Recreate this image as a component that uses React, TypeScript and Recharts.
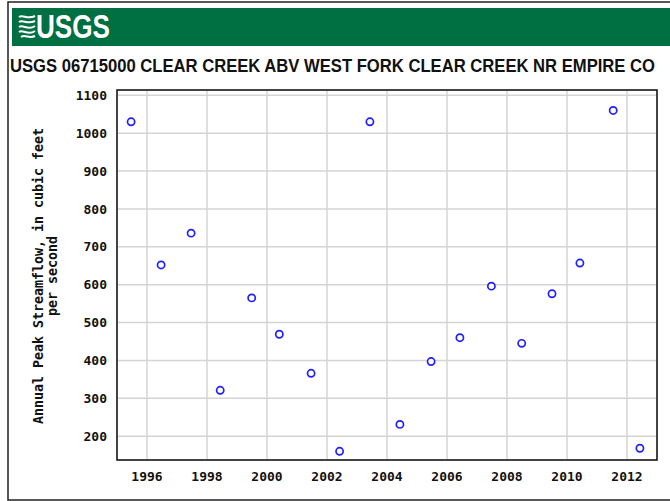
import React from 'react';
import { ScatterChart, Scatter, XAxis, YAxis, CartesianGrid, ReferenceArea } from 'recharts';

// ---- data ----
const peakDates = [
  1995.47, 1996.47, 1997.47, 1998.44, 1999.49, 2000.41, 2001.47, 2002.42, 2003.43,
  2004.43, 2005.47, 2006.43, 2007.48, 2008.49, 2009.5, 2010.43, 2011.54, 2012.43,
];
const peakFlows = [
  1030, 652, 736, 321, 565, 469, 366, 160, 1030,
  231, 397, 460, 596, 445, 576, 657, 1060, 168,
];
const xTicks = [1996, 1998, 2000, 2002, 2004, 2006, 2008, 2010, 2012];
const yTicks = [200, 300, 400, 500, 600, 700, 800, 900, 1000, 1100];
const xDomain: [number, number] = [1995, 2013];
const yDomain: [number, number] = [137, 1114];
const titleText = 'USGS 06715000 CLEAR CREEK ABV WEST FORK CLEAR CREEK NR EMPIRE CO';
const yLabelLine1 = 'Annual Peak Streamflow, in cubic feet';
const yLabelLine2 = 'per second';
const logoText = 'USGS';

const data = peakDates.map((x, i) => ({ x, y: peakFlows[i] }));

const W = 670;
const H = 501;
const MONO = '"DejaVu Sans Mono", "Liberation Mono", monospace';
const SANS = '"Liberation Sans", Arial, sans-serif';
const GREEN = '#006F41';

const Marker = (props: any) => {
  const { cx, cy } = props;
  if (cx == null || cy == null) return null;
  return <circle cx={cx} cy={cy} r={3.6} fill="#ffffff" stroke="#1f1fff" strokeWidth={1.7} />;
};

const Decor = () => (
  <svg width={W} height={H} style={{ position: 'absolute', left: 0, top: 0 }}>
    <rect x={0} y={0} width={W} height={H} fill="#ffffff" />
    <rect x={8} y={2} width={W + 20} height={498} fill="none" stroke="#222" strokeWidth={1.5} />
    <rect x={12} y={8} width={W - 12} height={38} fill={GREEN} />
    {/* wave icon */}
    <g stroke="#ffffff" strokeWidth={2} fill="none">
      <path d="M19,17 C23,14 27,20 35,16" />
      <path d="M19,22 C23,19 27,25 35,21" />
      <path d="M19,27 C23,24 28,31 35,26" />
      <path d="M19,32 C23,29 28,36 35,31" />
      <path d="M21,37 C25,34 29,39 35,36" />
    </g>
    <text
      transform="translate(36,38) scale(1,1.3)"
      fill="#ffffff"
      fontFamily={SANS}
      fontWeight="bold"
      fontSize={26}
      textLength={74}
      lengthAdjust="spacingAndGlyphs"
    >
      {logoText}
    </text>
    <text
      transform="translate(10,71.5) scale(1,1.126)"
      fill="#111"
      fontFamily={SANS}
      fontWeight="bold"
      fontSize={16.6}
      textLength={645}
      lengthAdjust="spacingAndGlyphs"
    >
      {titleText}
    </text>
    <text
      transform="translate(43,276) rotate(-90)"
      textAnchor="middle"
      fill="#111"
      fontFamily={MONO}
      fontWeight="bold"
      fontSize={13.3}
    >
      {yLabelLine1}
    </text>
    <text
      transform="translate(57,276) rotate(-90)"
      textAnchor="middle"
      fill="#111"
      fontFamily={MONO}
      fontWeight="bold"
      fontSize={13.3}
    >
      {yLabelLine2}
    </text>
  </svg>
);

export default function App() {
  const tickStyle = { fill: '#111', fontSize: 13, fontFamily: MONO, fontWeight: 'bold' } as any;
  return (
    <div style={{ position: 'absolute', left: 0, top: 0, width: W, height: H, background: '#fff' }}>
      <Decor />
      <div style={{ position: 'absolute', left: 0, top: 0 }}>
        <ScatterChart width={W} height={H} margin={{ top: 90, right: 13, bottom: 11, left: 57 }}>
          <CartesianGrid stroke="#d4d4d4" strokeWidth={1.5} />
          <XAxis
            type="number"
            dataKey="x"
            domain={xDomain}
            ticks={xTicks}
            axisLine={false}
            tickLine={false}
            tickSize={0}
            tickMargin={12}
            height={30}
            tick={tickStyle}
            allowDecimals={false}
          />
          <YAxis
            type="number"
            dataKey="y"
            domain={yDomain}
            ticks={yTicks}
            axisLine={false}
            tickLine={false}
            tickSize={0}
            tickMargin={10}
            width={60}
            tick={tickStyle}
          />
          <ReferenceArea
            x1={xDomain[0]}
            x2={xDomain[1]}
            y1={yDomain[0]}
            y2={yDomain[1]}
            fill="none"
            fillOpacity={0}
            stroke="#111"
            strokeWidth={1.5}
          />
          <Scatter data={data} shape={<Marker />} isAnimationActive={false} />
        </ScatterChart>
      </div>
    </div>
  );
}
